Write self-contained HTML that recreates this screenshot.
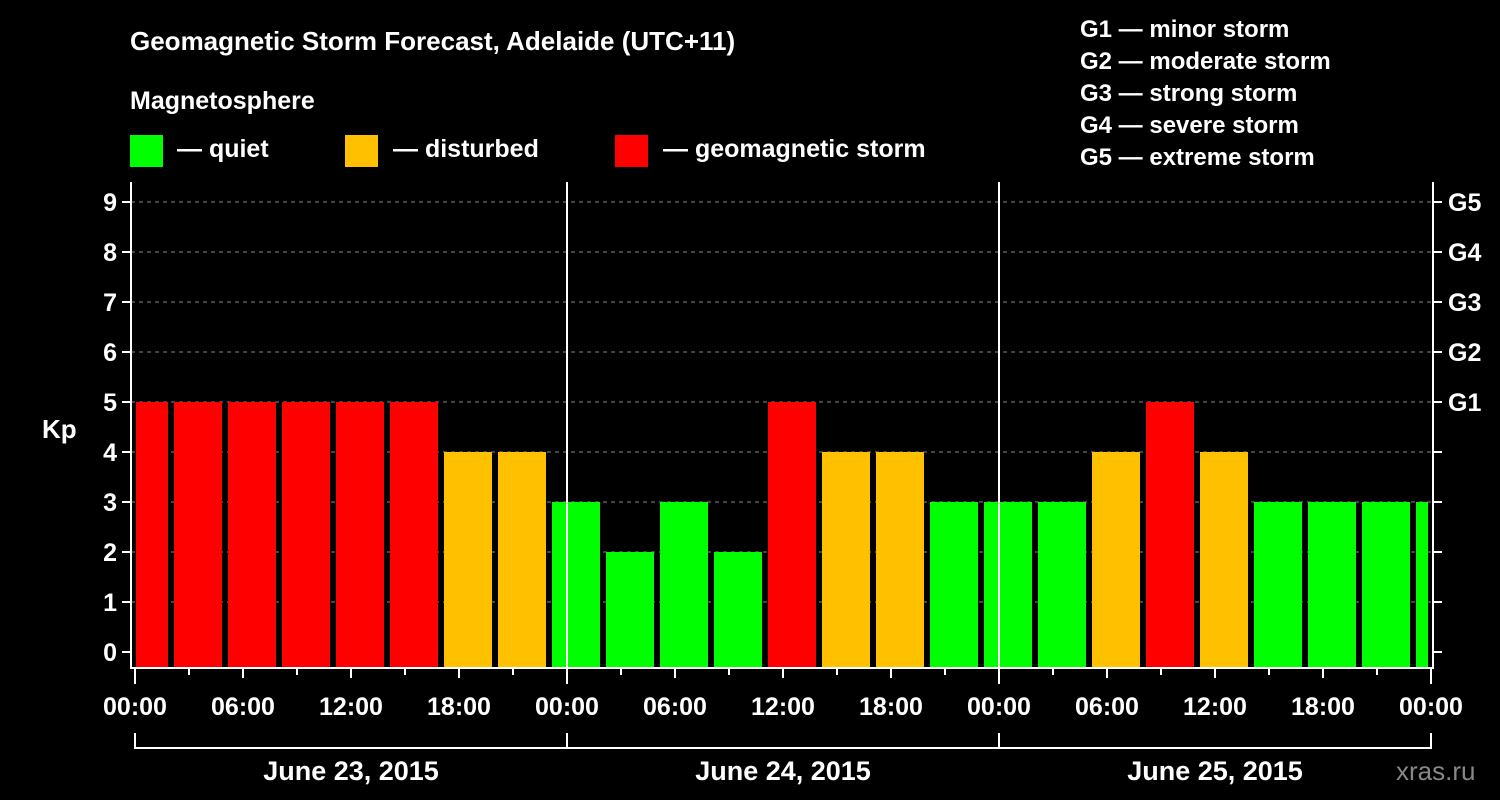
<!DOCTYPE html>
<html><head><meta charset="utf-8"><style>
body{margin:0;background:#000;}
svg{display:block;font-family:"Liberation Sans",sans-serif;font-weight:bold;}
</style></head><body>
<svg id="c" width="1500" height="800">
<rect width="1500" height="800" fill="#000"/>
<text x="130" y="50" fill="#fff" font-size="26">Geomagnetic Storm Forecast, Adelaide (UTC+11)</text>
<text x="130" y="109" fill="#fff" font-size="25">Magnetosphere</text>
<g><rect x="130" y="135" width="33" height="32" fill="#00ff00"/><text x="177" y="157" fill="#fff" font-size="25">— quiet</text></g>
<g><rect x="345" y="135" width="33" height="32" fill="#ffc000"/><text x="393" y="157" fill="#fff" font-size="25">— disturbed</text></g>
<g><rect x="615" y="135" width="33" height="32" fill="#ff0000"/><text x="663" y="157" fill="#fff" font-size="25">— geomagnetic storm</text></g>
<g fill="#fff" font-size="24">
<text x="1080" y="37">G1 — minor storm</text><text x="1080" y="69">G2 — moderate storm</text><text x="1080" y="101">G3 — strong storm</text><text x="1080" y="133">G4 — severe storm</text><text x="1080" y="165">G5 — extreme storm</text></g>
<text x="42" y="438" fill="#fff" font-size="26">Kp</text>
<text x="1396" y="780" fill="#888" font-size="26" font-weight="normal">xras.ru</text>
<g id="grid"></g><g id="bars"></g><g id="axes"></g>
</svg>
<script>
const kpValues=[5,5,5,5,5,5,4,4, 3,2,3,2,5,4,4,3, 3,3,4,5,4,3,3,3, 3];
const yTicks=[0,1,2,3,4,5,6,7,8,9];
const gLabels=["G1","G2","G3","G4","G5"];
const hourLabels=["00:00","06:00","12:00","18:00","00:00","06:00","12:00","18:00","00:00","06:00","12:00","18:00","00:00"];
const dayLabels=["June 23, 2015","June 24, 2015","June 25, 2015"];
const NS="http://www.w3.org/2000/svg";
const L=131,R=1433,T=182,B=668,X0=135,PX_PER_H=18;
const y=v=>652-50*v;
const x=h=>X0+PX_PER_H*h;
function mk(tag,a,parent,txt){const e=document.createElementNS(NS,tag);for(const k in a)e.setAttribute(k,a[k]);if(txt!=null)e.textContent=txt;document.getElementById(parent).appendChild(e);return e;}
yTicks.forEach(v=>{
 if(v>0){const g=mk('line',{x1:L,x2:R,y1:y(v),y2:y(v),stroke:'#888','stroke-dasharray':'4,4','stroke-width':1},'grid');
 
 }
 const t=mk('line',{x1:L-9,x2:L,y1:y(v),y2:y(v),stroke:'#fff','stroke-width':2},'axes');
 
 
 const t2=mk('line',{x1:R,x2:R+9,y1:y(v),y2:y(v),stroke:'#fff','stroke-width':2},'axes');
 
 
 const l=mk('text',{x:L-14,y:y(v)+9,fill:'#fff','font-size':25,'text-anchor':'end'},'axes',String(v));
 
 
});
gLabels.forEach((g,i)=>{
 const l=mk('text',{x:1448,y:y(5+i)+9,fill:'#fff','font-size':25},'axes',g);
 
 
});
const colorFor=v=>v>=5?'#ff0000':(v>=4?'#ffc000':'#00ff00');
kpValues.forEach((v,k)=>{
 let x1=x(3*k)-15,x2=x1+48;
 x1=Math.max(x1,L+5);x2=Math.min(x2,R-5);
 const b=mk('rect',{x:x1,y:y(v),width:x2-x1,height:B-1-y(v),fill:colorFor(v)},'bars');
 
 
});
const f=mk('path',{d:`M${L},${T}V${B}H${R}V${T}`,stroke:'#fff','stroke-width':2,fill:'none'},'axes');


[1,2].forEach(d=>{const s=mk('line',{x1:x(24*d),x2:x(24*d),y1:T,y2:B,stroke:'#fff','stroke-width':2},'axes');
 
 });
for(let h=0;h<=72;h+=3){const tk=mk('line',{x1:x(h),x2:x(h),y1:B,y2:B+(h%6===0?(h%24===0?16:10):7),stroke:'#fff','stroke-width':2},'axes');
 
 }
hourLabels.forEach((s,i)=>{const l=mk('text',{x:x(6*i*1)+ (0),y:715,fill:'#fff','font-size':25,'text-anchor':'middle'},'axes',s);
 l.setAttribute('x',x(6*i));
 
 });
const br=mk('path',{d:`M${x(0)},733V748H${x(72)}V733M${x(24)},733V748M${x(48)},733V748`,stroke:'#fff','stroke-width':2,fill:'none'},'axes');


dayLabels.forEach((s,i)=>{const l=mk('text',{x:x(24*i+12),y:780,fill:'#fff','font-size':27,'text-anchor':'middle'},'axes',s);
 
 });
</script>
</body></html>
